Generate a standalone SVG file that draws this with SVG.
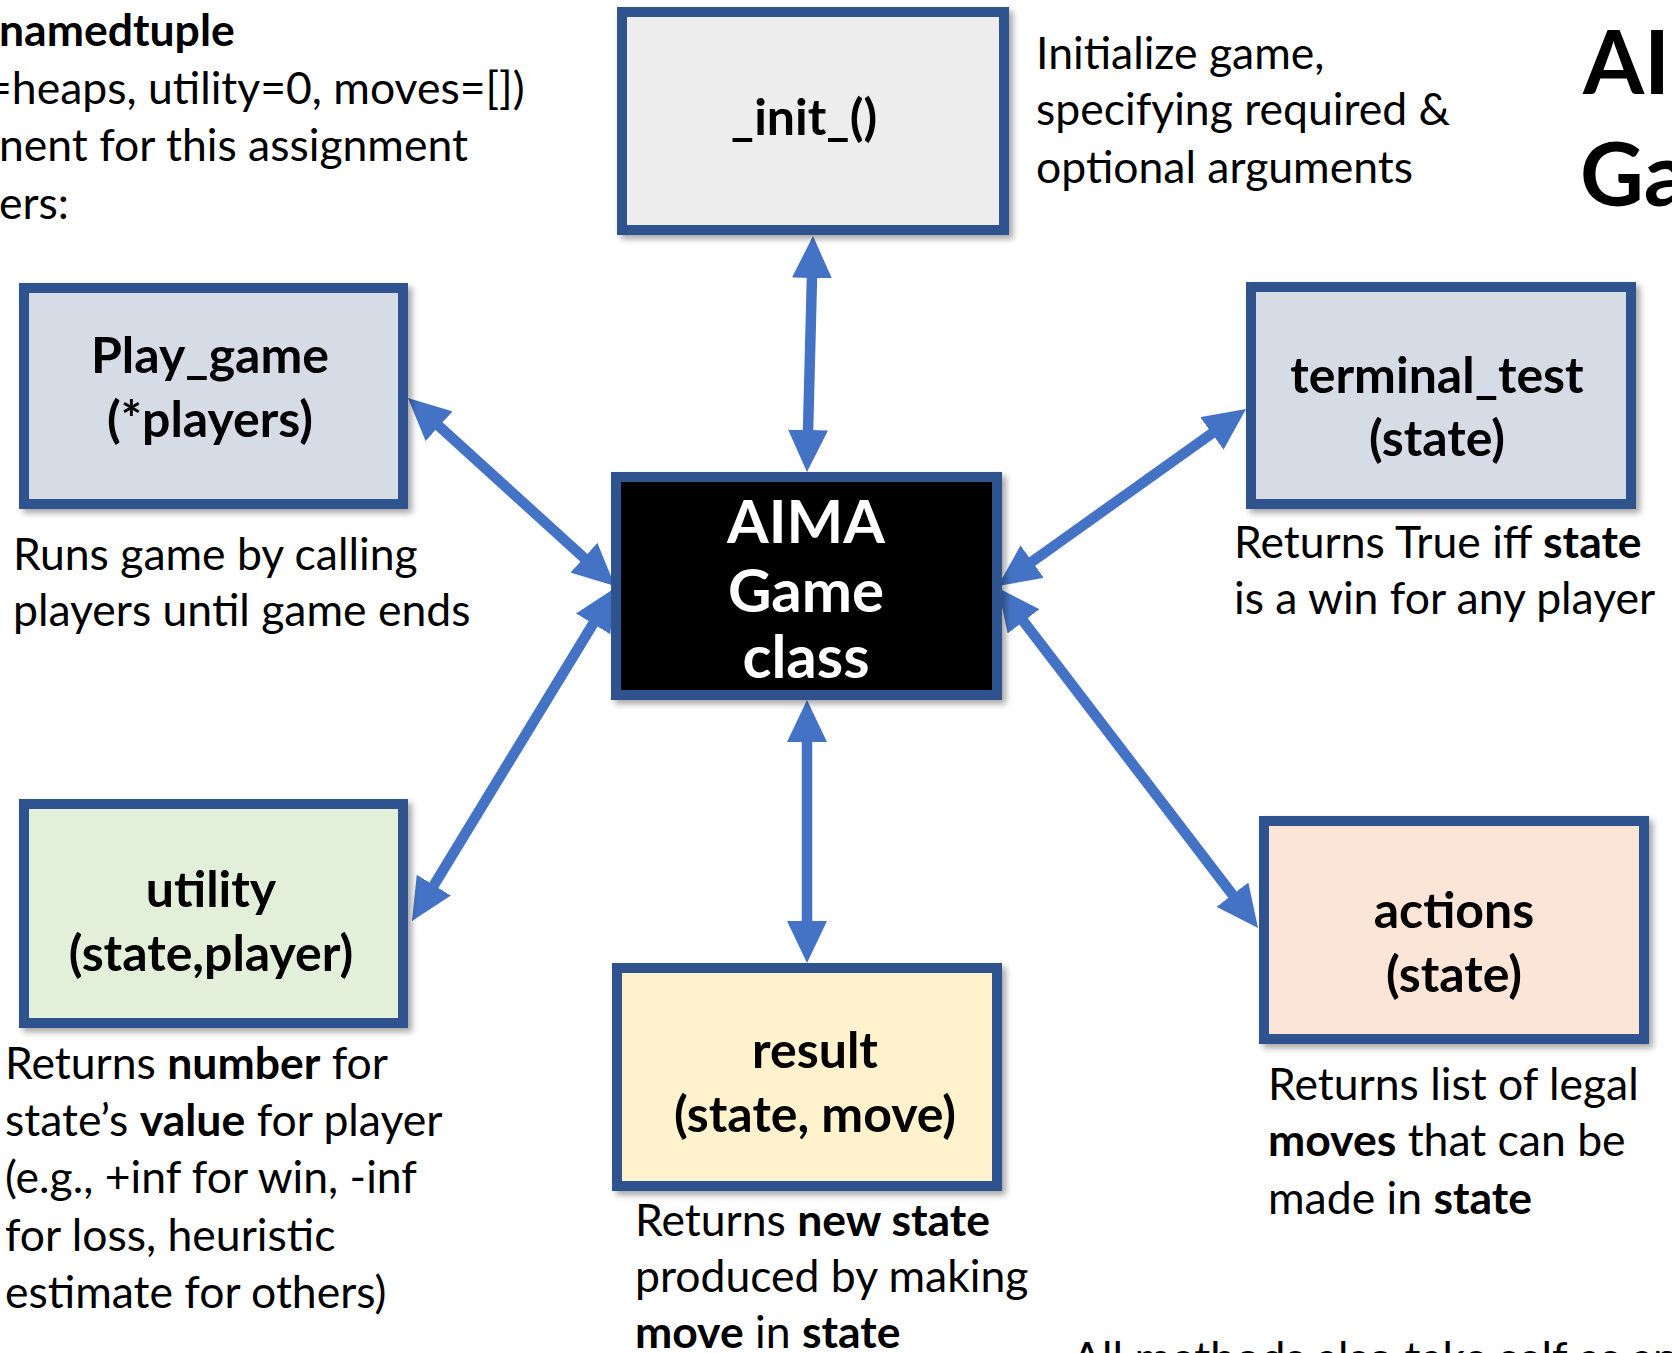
<svg xmlns="http://www.w3.org/2000/svg" width="1672" height="1353" viewBox="0 0 1672 1353">
<defs>
<filter id="sh" x="-10%" y="-10%" width="125%" height="125%">
<feDropShadow dx="4" dy="4" stdDeviation="3" flood-color="#000" flood-opacity="0.35"/>
</filter>
<marker id="ah" viewBox="0 0 42 40" markerWidth="42" markerHeight="40" refX="2" refY="20" orient="auto-start-reverse" markerUnits="userSpaceOnUse">
<path d="M0,0 L42,20 L0,40 z" fill="#4472C4"/>
</marker>
</defs>
<style>
.box{stroke:#2F528F;stroke-width:10;filter:url(#sh)}
.lbl{font-family:Lato,"Open Sans","Liberation Sans",sans-serif;font-weight:bold;font-size:50px;fill:#000;text-anchor:middle}
.ctr{font-family:Lato,"Open Sans","Liberation Sans",sans-serif;font-weight:bold;font-size:60px;fill:#fff;text-anchor:middle}
.txt{font-family:Lato,"Open Sans","Liberation Sans",sans-serif;font-size:44.5px;fill:#000}
.b{font-weight:bold}
.ttl{font-family:Lato,"Open Sans","Liberation Sans",sans-serif;font-weight:bold;font-size:88px;fill:#000}
.con{stroke:#4472C4;stroke-width:10.5;fill:none;marker-start:url(#ah);marker-end:url(#ah)}
</style>
<rect width="1672" height="1353" fill="#fff"/>

<g id="notes">
<text class="txt" x="-1" y="46"><tspan class="b">namedtuple</tspan></text>
<text class="txt" x="-14" y="104">=heaps, utility=0, moves=[])</text>
<text class="txt" x="-1" y="161">nent for this assignment</text>
<text class="txt" x="-1" y="219">ers:</text>
<text class="ttl" x="1583" y="94">AI</text>
<text class="ttl" x="1580" y="206">Ga</text>
<text class="txt" x="1072" y="1374">All methods also take self as an</text>
</g>

<g id="connectors">
<line class="con" x1="812" y1="276" x2="808" y2="432"/>
<line class="con" x1="807" y1="740" x2="807" y2="923"/>
<line class="con" x1="437.6" y1="424.9" x2="585.4" y2="559.1"/>
<line class="con" x1="432.8" y1="886.9" x2="594.2" y2="622.1"/>
<line class="con" x1="1213.5" y1="432.2" x2="1030.5" y2="562.8"/>
<line class="con" x1="1233.7" y1="896.2" x2="1022.3" y2="619.8"/>
</g>

<g id="init">
<rect class="box" x="622" y="12" width="382" height="218" fill="#EDEDED"/>
<text class="lbl" x="804" y="135">_init_()</text>
<text class="txt" x="1036" y="69">Initialize game,</text>
<text class="txt" x="1036" y="125">specifying required &amp;</text>
<text class="txt" x="1036" y="183">optional arguments</text>
</g>

<g id="play_game">
<rect class="box" x="24" y="288" width="379" height="216" fill="#D6DCE5"/>
<text class="lbl" x="210" y="373">Play_game</text>
<text class="lbl" x="210" y="437">(*players)</text>
<text class="txt" x="13" y="570">Runs game by calling</text>
<text class="txt" x="13" y="626">players until game ends</text>
</g>

<g id="aima">
<rect class="box" x="616" y="477" width="381" height="218" fill="#000"/>
<text class="ctr" x="806" y="543">AIMA</text>
<text class="ctr" x="806" y="612">Game</text>
<text class="ctr" x="806" y="678">class</text>
</g>

<g id="terminal_test">
<rect class="box" x="1251" y="287" width="380" height="217" fill="#D6DCE5"/>
<text class="lbl" x="1437" y="393">terminal_test</text>
<text class="lbl" x="1437" y="456">(state)</text>
<text class="txt" x="1234" y="558">Returns True iff <tspan class="b">state</tspan></text>
<text class="txt" x="1234" y="614">is a win for any player</text>
</g>

<g id="utility">
<rect class="box" x="24" y="804" width="379" height="219" fill="#E2F0D9"/>
<text class="lbl" x="211" y="907">utility</text>
<text class="lbl" x="211" y="971">(state,player)</text>
<text class="txt" x="5" y="1079">Returns <tspan class="b">number</tspan> for</text>
<text class="txt" x="5" y="1136">state’s <tspan class="b">value</tspan> for player</text>
<text class="txt" x="5" y="1193">(e.g., +inf for win, -inf</text>
<text class="txt" x="5" y="1251">for loss, heuristic</text>
<text class="txt" x="5" y="1308">estimate for others)</text>
</g>

<g id="result">
<rect class="box" x="617" y="968" width="380" height="218" fill="#FFF2CC"/>
<text class="lbl" x="815" y="1068">result</text>
<text class="lbl" x="815" y="1132">(state, move)</text>
<text class="txt" x="635" y="1236">Returns <tspan class="b">new state</tspan></text>
<text class="txt" x="635" y="1292">produced by making</text>
<text class="txt" x="635" y="1348"><tspan class="b">move</tspan> in <tspan class="b">state</tspan></text>
</g>

<g id="actions">
<rect class="box" x="1264" y="821" width="380" height="218" fill="#FBE5D6"/>
<text class="lbl" x="1454" y="928">actions</text>
<text class="lbl" x="1454" y="992">(state)</text>
<text class="txt" x="1268" y="1100">Returns list of legal</text>
<text class="txt" x="1268" y="1156"><tspan class="b">moves</tspan> that can be</text>
<text class="txt" x="1268" y="1214">made in <tspan class="b">state</tspan></text>
</g>
</svg>
